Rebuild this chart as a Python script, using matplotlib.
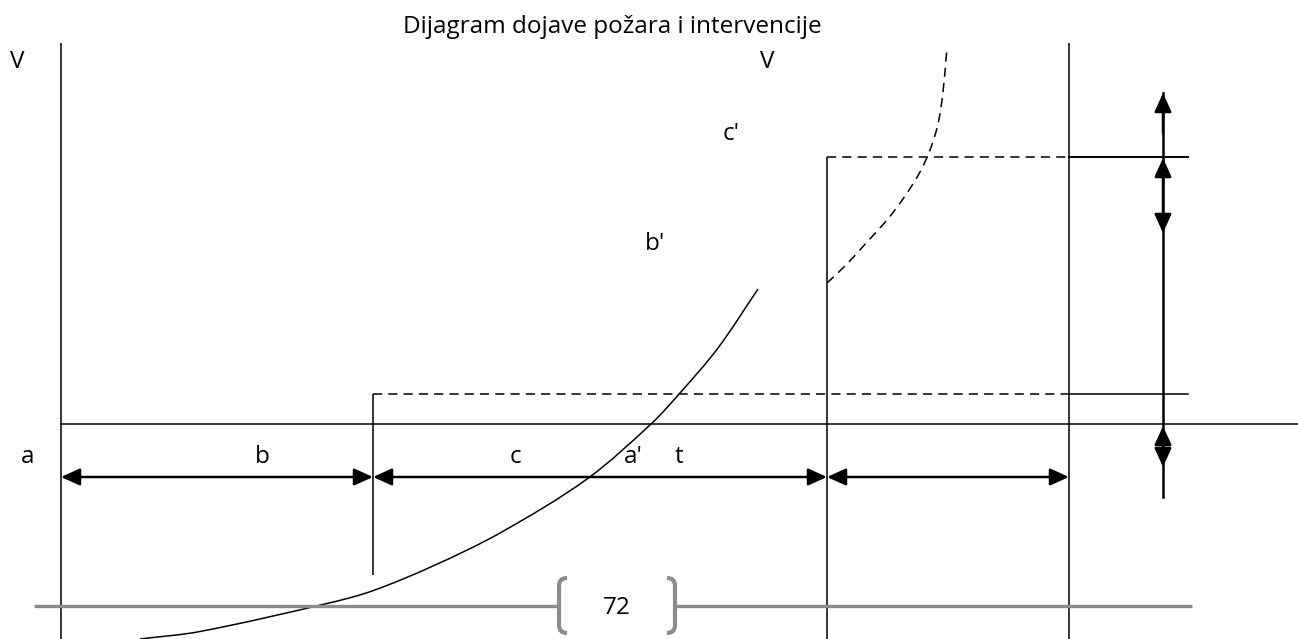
import matplotlib
matplotlib.use("Agg")
import matplotlib.pyplot as plt
from matplotlib.patches import FancyArrowPatch, PathPatch
from matplotlib.path import Path

# ---------------- data (diagram coordinates, pixel space) ----------------
title = "Dijagram dojave požara i intervencije"

# solid growth curve
curve_x = [140, 200, 327, 372, 433, 500, 587, 651, 680, 718, 758]
curve_y = [639, 631.5, 603.5, 591, 566, 533, 479, 424, 393, 348, 289]

# dashed curve after intervention
dcurve_x = [827, 847, 867, 887, 905, 920, 930, 938, 943, 947]
dcurve_y = [283, 264, 242, 220, 196, 172, 150, 124, 92, 47]

# vertical lines: x, y_top, y_bottom
vline_x = [61, 373, 827, 1069]
vline_top = [43, 394, 157, 43]
vline_bot = [639, 575, 639, 639]

# horizontal levels
base_y = 424
low_y = 394
high_y = 157
arrow_y = 477
seg_x = [61, 373, 827, 1069]      # time segment boundaries
level_start = [373, 827]           # dashed level start x
level_end = 1069
level_tail = 1188

# right vertical dimension line
dim_x = 1163
dim_top, dim_bot = 93, 497
dim_pairs = [(158, 233), (426, 467)]

# labels: text, x, y (baseline)
labels = [("V", 17, 68), ("V", 767, 68), ("c'", 731, 140), ("b'", 655, 250),
          ("a", 28, 463), ("b", 262, 463), ("c", 515, 463), ("a'", 633, 463),
          ("t", 679, 463)]

page_num = "72"
footer_y = 606
footer_left = (34, 557)
footer_right = (676, 1192)

# ---------------- drawing ----------------
plt.rcParams['font.family'] = ['Open Sans', 'DejaVu Sans']
fig = plt.figure(figsize=(12.98, 6.39), dpi=100)
ax = fig.add_axes([0, 0, 1, 1])
ax.set_xlim(0, 1298)
ax.set_ylim(639, 0)
ax.axis('off')

LW = 1.1
K = 'black'


def smooth_path(xs, ys):
    """Cubic Bezier path through the read points, tangents from neighbouring chords."""
    pts = list(zip(xs, ys))
    n = len(pts)

    def dist(a, b):
        return ((a[0] - b[0]) ** 2 + (a[1] - b[1]) ** 2) ** 0.5

    tang = []
    for i in range(n):
        a = pts[max(i - 1, 0)]
        b = pts[min(i + 1, n - 1)]
        d = dist(a, b)
        tang.append(((b[0] - a[0]) / d, (b[1] - a[1]) / d))
    verts = [pts[0]]
    codes = [Path.MOVETO]
    for i in range(n - 1):
        p1, p2 = pts[i], pts[i + 1]
        L = dist(p1, p2) / 3
        c1 = (p1[0] + tang[i][0] * L, p1[1] + tang[i][1] * L)
        c2 = (p2[0] - tang[i + 1][0] * L, p2[1] - tang[i + 1][1] * L)
        verts += [c1, c2, p2]
        codes += [Path.CURVE4] * 3
    return Path(verts, codes)


for x, t, b in zip(vline_x, vline_top, vline_bot):
    ax.plot([x, x], [t, b], color=K, lw=LW, solid_capstyle='butt')

ax.plot([seg_x[0], 1298], [base_y, base_y], color=K, lw=LW)
ax.plot([level_start[0], level_end], [low_y, low_y], color=K, lw=LW, ls=(0, (6, 4)))
ax.plot([level_end, level_tail], [low_y, low_y], color=K, lw=LW)
ax.plot([level_start[1], level_end], [high_y, high_y], color=K, lw=LW, ls=(0, (6, 4)))
ax.plot([level_end, level_tail], [high_y, high_y], color=K, lw=1.4)

ax.add_patch(PathPatch(smooth_path(curve_x, curve_y), fill=False, edgecolor=K, lw=LW))
ax.add_patch(PathPatch(smooth_path(dcurve_x, dcurve_y), fill=False, edgecolor=K, lw=LW,
                       linestyle=(0, (6, 4))))

HL, HW = 11.5, 5.2


def arrow(p0, p1, style):
    a = FancyArrowPatch(p0, p1, arrowstyle=f"{style},head_length={HL},head_width={HW}",
                        mutation_scale=1, color=K, lw=1.8, shrinkA=0, shrinkB=0)
    ax.add_patch(a)


for x0, x1 in zip(seg_x[:-1], seg_x[1:]):
    arrow((x0, arrow_y), (x1, arrow_y), '<|-|>')

ax.plot([dim_x, dim_x], [dim_top, dim_bot], color=K, lw=1.8)
arrow((dim_x, dim_top + 40), (dim_x, dim_top), '-|>')
for a0, a1 in dim_pairs:
    arrow((dim_x, a0), (dim_x, a1), '<|-|>')

FS = 17.5
for s, x, y in labels:
    ax.text(x, y, s, fontsize=FS, ha='center', va='baseline', color=K)
ax.text(612, 33, title, fontsize=FS, ha='center', va='baseline', color=K)

# footer
G = '#8c8c8c'
ax.plot(footer_left, [footer_y, footer_y], color=G, lw=2.4, solid_capstyle='butt')
ax.plot(footer_right, [footer_y, footer_y], color=G, lw=2.4, solid_capstyle='butt')
lb = Path([(567, 578), (559, 578), (559, 586), (559, 625), (559, 633), (567, 633)],
          [Path.MOVETO, Path.CURVE3, Path.CURVE3, Path.LINETO, Path.CURVE3, Path.CURVE3])
rb = Path([(667, 578), (675, 578), (675, 586), (675, 625), (675, 633), (667, 633)],
          [Path.MOVETO, Path.CURVE3, Path.CURVE3, Path.LINETO, Path.CURVE3, Path.CURVE3])
for p in (lb, rb):
    ax.add_patch(PathPatch(p, fill=False, edgecolor=G, lw=3))
ax.text(617, 614, page_num, fontsize=FS, ha='center', va='baseline', color=K)

fig.savefig("out.png", dpi=100)
